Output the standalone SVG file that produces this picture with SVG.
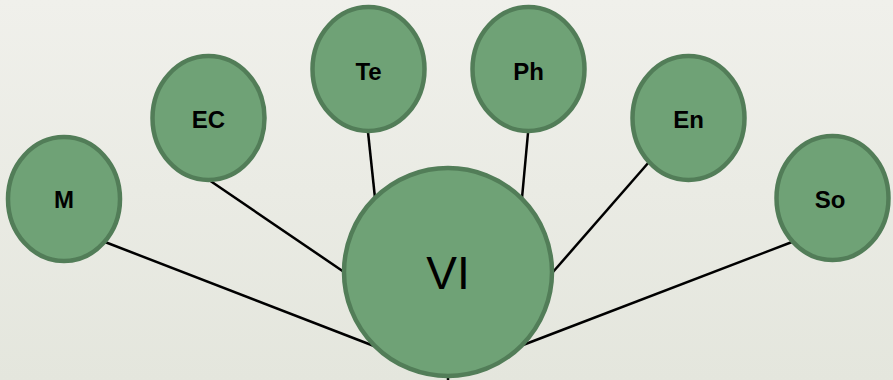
<svg xmlns="http://www.w3.org/2000/svg" width="893" height="380" viewBox="0 0 893 380">
  <defs>
    <linearGradient id="bg" x1="0" y1="0" x2="0" y2="1">
      <stop offset="0" stop-color="#f0f0eb"/>
      <stop offset="1" stop-color="#e4e6dd"/>
    </linearGradient>
    <style>
      .node { fill: #6fa276; stroke: #527d58; stroke-width: 4.5; }
      .lbl { font-family: "Liberation Sans", Arial, sans-serif; font-weight: bold; font-size: 24px; fill: #000; text-anchor: middle; }
      .big { font-family: "Liberation Sans", Arial, sans-serif; font-size: 46px; fill: #000; text-anchor: middle; }
      .conn line { stroke: #000; stroke-width: 2.5; }
    </style>
  </defs>
  <rect width="893" height="380" fill="url(#bg)"/>
  <g id="connectors" class="conn">
    <line x1="105" y1="242" x2="374" y2="346"/>
    <line x1="209" y1="180" x2="344" y2="272"/>
    <line x1="368" y1="132" x2="375" y2="198"/>
    <line x1="528" y1="133" x2="522" y2="198"/>
    <line x1="649" y1="162" x2="553" y2="272"/>
    <line x1="792" y1="242" x2="523" y2="345"/>
    <line x1="448" y1="374" x2="448" y2="382"/>
  </g>
  <g id="node-M">
    <ellipse class="node" cx="64" cy="199" rx="56" ry="62"/>
    <text class="lbl" x="64" y="208">M</text>
  </g>
  <g id="node-EC">
    <ellipse class="node" cx="208.5" cy="118" rx="56" ry="62"/>
    <text class="lbl" x="208.5" y="128">EC</text>
  </g>
  <g id="node-Te">
    <ellipse class="node" cx="368.5" cy="69" rx="56" ry="62"/>
    <text class="lbl" x="368.5" y="80">Te</text>
  </g>
  <g id="node-Ph">
    <ellipse class="node" cx="528.5" cy="69" rx="56" ry="62"/>
    <text class="lbl" x="528.5" y="80">Ph</text>
  </g>
  <g id="node-En">
    <ellipse class="node" cx="688.5" cy="118" rx="56" ry="62"/>
    <text class="lbl" x="688.5" y="128">En</text>
  </g>
  <g id="node-So">
    <ellipse class="node" cx="832.5" cy="198" rx="56" ry="62"/>
    <text class="lbl" x="830" y="208">So</text>
  </g>
  <g id="node-VI">
    <circle class="node" cx="448" cy="272" r="104"/>
    <text class="big" x="448" y="289">VI</text>
  </g>
</svg>
